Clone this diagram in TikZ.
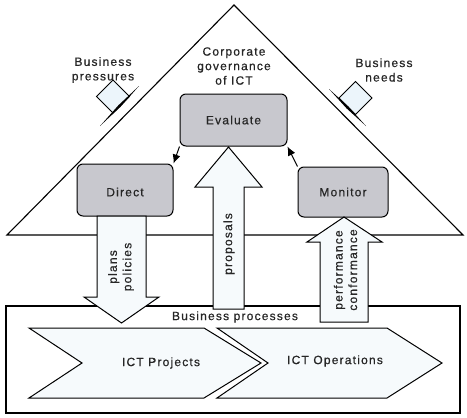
\documentclass[tikz,border=0pt]{standalone}
\usepackage{fontspec}
\setmainfont{Liberation Sans}[LetterSpace=10, FakeBold=0.6]
\usetikzlibrary{arrows.meta}
\definecolor{boxgray}{RGB}{200,200,206}
\definecolor{paleblue}{RGB}{246,250,252}
\definecolor{diamblue}{RGB}{236,245,251}
\tikzset{
  lbl/.style={font=\fontsize{12}{14.5}\selectfont, inner sep=0pt, align=center, text=black!85},
  govbox/.style={draw, line width=1pt, fill=boxgray, rounded corners=6pt, inner sep=0pt},
  outline/.style={draw, line width=1.1pt},
  blockarrow/.style={draw, line width=1pt, fill=paleblue},
  chev/.style={draw, line width=1pt, fill=paleblue},
  flow/.style={line width=1pt, -{Latex[length=9pt,width=8pt]}},
  force/.style={fill=black}
}
\begin{document}
\begin{tikzpicture}[x=1pt,y=-1pt]
\useasboundingbox (0,0) rectangle (467,418);
% triangle and business processes frame
\draw[outline] (234,5) -- (7,235) -- (463,235) -- cycle;
\draw[outline] (6,306) rectangle (460,413);
% pressure symbols
\draw[line width=1pt, fill=diamblue] (113,80) -- (129.5,96.5) -- (113,113) -- (96.5,96.5) -- cycle;
\fill[force] (139,86) -- (120.4,106.9) -- (100,126) -- (118.6,105.1) -- cycle;
\draw[line width=1pt, fill=diamblue] (355.5,81.5) -- (372,98) -- (355.5,114.5) -- (339,98) -- cycle;
\fill[force] (329,89) -- (348.4,106.6) -- (366,126) -- (346.6,108.4) -- cycle;
% labels in triangle
\node[lbl] (corp) at (234,66) {Corporate\\governance\\of ICT};
\node[lbl] (bpress) at (103,70) {Business\\pressures};
\node[lbl] (bneeds) at (384,70) {Business\\needs};
% governance boxes
\node[govbox, minimum width=107pt, minimum height=52pt] (eva) at (233.5,120) {};
\node[govbox, minimum width=96pt, minimum height=52pt] (dir) at (125,190) {};
\node[govbox, minimum width=90pt, minimum height=50pt] (mon) at (343,192) {};
\node[lbl] at (eva.center) {Evaluate};
\node[lbl] at ([yshift=-2pt]dir.center) {Direct};
\node[lbl] at (mon.center) {Monitor};
\draw[flow] (eva.south west) -- (dir.north east);
\draw[flow] (mon.north west) -- (eva.south east);
% block arrows
\draw[blockarrow] (97,216) -- (146,216) -- (146,297) -- (159,297) -- (121.5,323) -- (84,297) -- (97,297) -- cycle;
\draw[blockarrow] (213,309) -- (213,187) -- (195,187) -- (228.5,147) -- (262,187) -- (244,187) -- (244,309) -- cycle;
\draw[blockarrow] (320,322) -- (320,242) -- (307,242) -- (344,217) -- (382,242) -- (368,242) -- (368,322) -- cycle;
\node[lbl, rotate=90] (pp) at (121,267) {plans\\policies};
\node[lbl, rotate=90] (prop) at (229,244) {proposals};
\node[lbl, rotate=90] (perf) at (345.5,270) {performance\\conformance};
% business processes
\node[lbl] (bproc) at (235,317) {Business processes};
\draw[chev] (29,328) -- (204,328) -- (261,363) -- (204,398) -- (29,398) -- (82,363) -- cycle;
\draw[chev] (217,328) -- (387,328) -- (442,363) -- (387,398) -- (217,398) -- (268,363) -- cycle;
\node[lbl] (proj) at (161,363) {ICT Projects};
\node[lbl] (oper) at (335,361) {ICT Operations};
\end{tikzpicture}
\end{document}
